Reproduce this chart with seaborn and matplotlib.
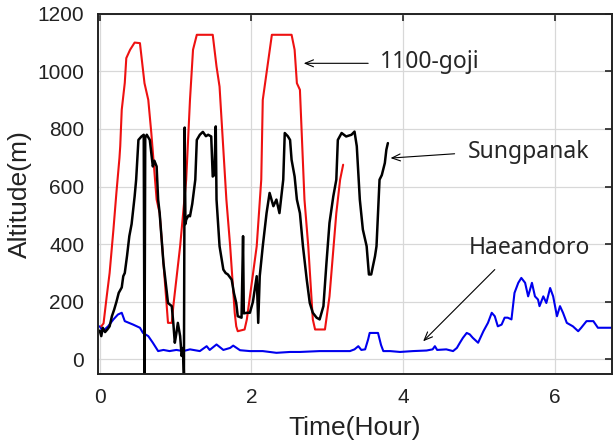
import pandas as pd
import matplotlib
matplotlib.use("Agg")
import matplotlib.pyplot as plt
import seaborn as sns

# ---- data (time in hours, altitude in m) ----
goji_t = [0.02, 0.05, 0.09, 0.13, 0.18, 0.22, 0.26, 0.27, 0.29, 0.33, 0.35, 0.40,
          0.46, 0.53, 0.59, 0.64, 0.68, 0.75, 0.79, 0.84, 0.88, 0.90, 0.95, 0.97,
          1.06, 1.14, 1.19, 1.23, 1.28, 1.49, 1.54, 1.58, 1.67, 1.72, 1.78, 1.80,
          1.82, 1.91, 1.94, 2.07, 2.13, 2.15, 2.27, 2.53, 2.57, 2.60, 2.64, 2.70,
          2.75, 2.81, 2.84, 2.97, 3.03, 3.12, 3.17, 3.21]
goji_alt = [115, 125, 215, 300, 450, 580, 700, 740, 867, 960, 1046, 1075,
            1100, 1098, 959, 901, 786, 555, 508, 335, 197, 127, 127, 185,
            393, 624, 901, 1075, 1127, 1127, 1017, 947, 555, 393, 162, 115,
            98, 104, 139, 393, 624, 901, 1127, 1127, 1075, 959, 936, 555,
            393, 139, 104, 104, 219, 508, 624, 676]

sung_t = [0.00, 0.02, 0.04, 0.07, 0.10, 0.13, 0.16, 0.19, 0.22, 0.25, 0.29, 0.31,
          0.33, 0.36, 0.39, 0.42, 0.46, 0.48, 0.51, 0.55, 0.58, 0.59, 0.60, 0.62,
          0.66, 0.70, 0.72, 0.75, 0.77, 0.79, 0.84, 0.88, 0.90, 0.95, 0.97, 0.99,
          1.01, 1.03, 1.06, 1.08, 1.10, 1.11, 1.12, 1.13, 1.14, 1.17, 1.19, 1.22,
          1.26, 1.28, 1.32, 1.36, 1.40, 1.43, 1.47, 1.49, 1.51, 1.53, 1.54, 1.58,
          1.63, 1.66, 1.69, 1.74, 1.77, 1.80, 1.82, 1.87, 1.89, 1.90, 1.94, 1.98,
          2.02, 2.07, 2.09, 2.11, 2.15, 2.20, 2.24, 2.29, 2.33, 2.37, 2.42, 2.44,
          2.48, 2.51, 2.53, 2.57, 2.60, 2.64, 2.68, 2.73, 2.77, 2.81, 2.86, 2.90,
          2.95, 2.99, 3.03, 3.08, 3.12, 3.14, 3.19, 3.25, 3.32, 3.36, 3.39, 3.43,
          3.47, 3.52, 3.55, 3.58, 3.63, 3.65, 3.67, 3.69, 3.72, 3.76, 3.78, 3.80]
sung_alt = [100, 81, 110, 95, 104, 115, 150, 173, 200, 231, 250, 289,
            300, 360, 428, 470, 566, 624, 762, 774, 780, -50, 770, 780,
            762, 670, 690, 670, 555, 508, 335, 243, 196, 185, 127, 58,
            90, 127, 81, 12, 40, -50, 805, 470, 485, 500, 497, 540,
            624, 762, 780, 790, 775, 780, 774, 635, 640, 809, 555, 393,
            312, 300, 295, 277, 230, 196, 150, 145, 428, 160, 162, 162,
            200, 289, 127, 289, 393, 508, 578, 532, 555, 508, 624, 786,
            775, 762, 693, 635, 555, 508, 393, 277, 196, 162, 145, 139,
            185, 335, 474, 566, 624, 762, 786, 774, 780, 791, 740, 555,
            451, 393, 295, 295, 358, 393, 508, 624, 640, 682, 728, 751]

haean_t = [0.00, 0.04, 0.11, 0.18, 0.24, 0.29, 0.33, 0.44, 0.53, 0.57, 0.64, 0.70,
           0.77, 0.84, 0.92, 1.01, 1.10, 1.19, 1.32, 1.41, 1.45, 1.54, 1.63, 1.72,
           1.76, 1.85, 1.98, 2.15, 2.33, 2.51, 2.64, 2.90, 3.17, 3.30, 3.36, 3.41,
           3.45, 3.50, 3.54, 3.56, 3.67, 3.71, 3.74, 3.83, 3.96, 4.13, 4.31, 4.39,
           4.42, 4.45, 4.57, 4.66, 4.71, 4.75, 4.79, 4.84, 4.88, 4.92, 4.99, 5.06,
           5.12, 5.17, 5.21, 5.25, 5.30, 5.34, 5.38, 5.43, 5.47, 5.52, 5.56, 5.61,
           5.65, 5.70, 5.74, 5.78, 5.80, 5.85, 5.89, 5.94, 5.98, 6.03, 6.07, 6.11,
           6.16, 6.24, 6.31, 6.35, 6.42, 6.51, 6.57, 6.75]
haean_alt = [115, 98, 115, 139, 156, 162, 133, 121, 110, 92, 81, 58,
             29, 33, 29, 33, 29, 35, 29, 46, 33, 52, 33, 40,
             48, 32, 29, 29, 23, 26, 26, 29, 29, 29, 35, 46,
             33, 35, 70, 92, 92, 50, 29, 29, 26, 29, 31, 35,
             46, 33, 35, 29, 40, 58, 75, 92, 87, 75, 58, 98,
             127, 162, 150, 115, 121, 145, 145, 139, 231, 266, 283, 266,
             219, 266, 219, 208, 185, 219, 196, 248, 219, 150, 185, 162,
             127, 115, 98, 110, 133, 133, 110, 110]

x_ticks = [0, 2, 4, 6]
y_ticks = [0, 200, 400, 600, 800, 1000, 1200]

# ---- plot ----
sns.set_style("white")
plt.rcParams['font.family'] = ['Liberation Sans', 'DejaVu Sans']

fig = plt.figure(figsize=(6.14, 4.44), dpi=100)
ax = fig.add_axes([0.160, 0.158, 0.836, 0.811])

series = [
    (haean_t, haean_alt, '#0000ee', 1.5),
    (goji_t, goji_alt, '#ee1111', 1.5),
    (sung_t, sung_alt, '#000000', 1.8),
]
for t, alt, color, lw in series:
    df = pd.DataFrame({'t': t, 'alt': alt})
    sns.lineplot(data=df, x='t', y='alt', color=color, lw=lw,
                 sort=False, estimator=None, ax=ax)

ax.set_xlim(-0.02, 6.75)
ax.set_ylim(-50, 1200)
ax.set_xticks(x_ticks)
ax.set_yticks(y_ticks)
ax.grid(True, color='#d8d8d8', lw=0.9)
ax.tick_params(direction='in', top=True, right=True, length=5, width=1.2,
               labelsize=15, pad=10, colors='#222222')
for s in ax.spines.values():
    s.set_color('#222222')
    s.set_linewidth(1.4)

ax.set_xlabel('Time(Hour)', fontsize=19, labelpad=7, color='#222222')
ax.set_ylabel('Altitude(m)', fontsize=19, labelpad=4, color='#222222')

# annotations
note_font = ['Noto Sans', 'DejaVu Sans']
arrow = dict(arrowstyle='->,head_length=0.6,head_width=0.25', color='black',
             lw=0.8, shrinkA=0, shrinkB=0)
ax.annotate('', xy=(2.69, 1028), xytext=(3.54, 1028), arrowprops=arrow)
ax.text(3.70, 1034, '1100-goji', fontsize=16.5, family=note_font, va='center')
ax.annotate('', xy=(3.835, 699), xytext=(4.68, 714), arrowprops=arrow)
ax.text(4.86, 719, 'Sungpanak', fontsize=16.5, family=note_font, va='center')
ax.annotate('', xy=(4.265, 63), xytext=(5.21, 312), arrowprops=arrow)
ax.text(4.87, 388, 'Haeandoro', fontsize=16.5, family=note_font, va='center')

fig.savefig('out.png', dpi=100)
